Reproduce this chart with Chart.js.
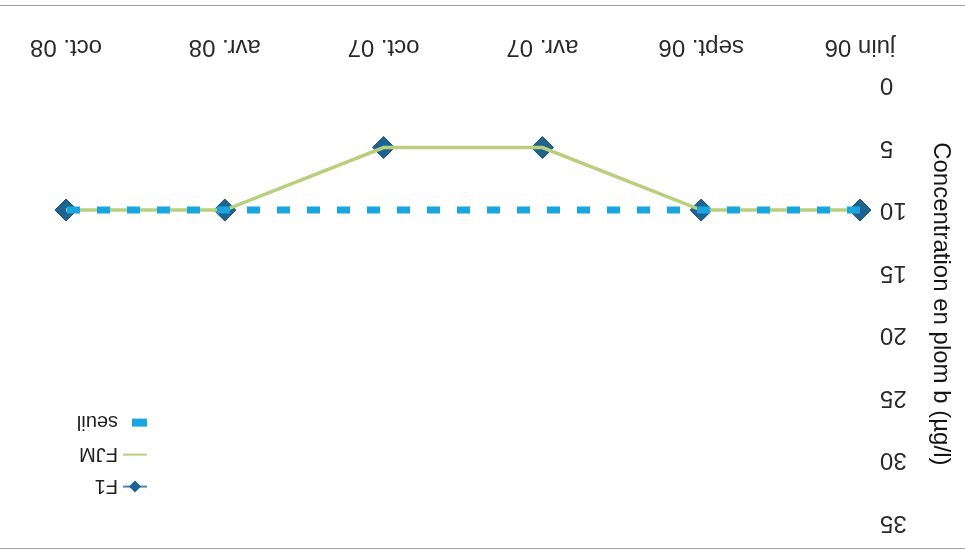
<!DOCTYPE html>
<html>
<head>
<meta charset="utf-8">
<script src="https://cdn.jsdelivr.net/npm/chart.js@4"></script>
<style>
   html, body { margin: 0; padding: 0; background: #fff; }
   /* the scanned page is upside down, so the whole chart is turned round */
   #wrap { position: relative; width: 965px; height: 557px; transform: rotate(180deg); }
   #frame { position: absolute; left: 0; right: 0; top: 8px; height: 542px;
            border-top: 1px solid #a3a3a3; border-bottom: 1px solid #a3a3a3; pointer-events: none; }
</style>
</head>
<body>
<div id="wrap">
   <canvas id="leadChart" width="965" height="557"></canvas>
   <div id="frame"></div>
</div>
<script>
const labels = ['juin 06', 'sept. 06', 'avr. 07', 'oct. 07', 'avr. 08', 'oct. 08'];
const f1Values = [10, 10, 5, 5, 10, 10];
const fjmValues = [10, 10, 5, 5, 10, 10];
const seuilValues = [10, 10, 10, 10, 10, 10];
const yTicks = [0, 5, 10, 15, 20, 25, 30, 35];
const yTitle = 'Concentration en plom b (µg/l)';

const fontFamily = '"Liberation Sans", Arial, sans-serif';

// legend sits inside the plot, near the top right corner
const sideLegend = {
   id: 'sideLegend',
   afterDatasetsDraw(chart) {
      const ctx = chart.ctx;
      const area = chart.chartArea;
      const x0 = area.right - 81;
      ctx.save();
      chart.data.datasets.forEach((ds, i) => {
         const y = area.top + 36 + i * 32;
         if (ds.borderDash && ds.borderDash.length) {
            ctx.fillStyle = ds.borderColor;
            ctx.fillRect(x0, y - 4, 15, 8);
         } else {
            ctx.strokeStyle = ds.borderColor;
            ctx.lineWidth = 2;
            ctx.beginPath();
            ctx.moveTo(x0, y);
            ctx.lineTo(x0 + 24, y);
            ctx.stroke();
         }
         if (ds.pointRadius > 0) {
            const cx = x0 + 12, r = 6;
            ctx.fillStyle = ds.pointBackgroundColor;
            ctx.beginPath();
            ctx.moveTo(cx, y - r);
            ctx.lineTo(cx + r, y);
            ctx.lineTo(cx, y + r);
            ctx.lineTo(cx - r, y);
            ctx.closePath();
            ctx.fill();
         }
         ctx.fillStyle = '#222';
         ctx.font = '20px ' + fontFamily;
         ctx.textAlign = 'left';
         ctx.textBaseline = 'middle';
         ctx.fillText(ds.label, x0 + 29, y + 1);
      });
      ctx.restore();
   }
};

const ctx = document.getElementById('leadChart').getContext('2d');
new Chart(ctx, {
   type: 'line',
   data: {
      labels: labels,
      datasets: [
         {
            label: 'F1',
            data: f1Values,
            borderColor: '#4a86b8',
            borderWidth: 2,
            pointStyle: 'rectRot',
            pointRadius: 11,
            pointBackgroundColor: '#1d6491',
            pointBorderColor: '#164d71',
            pointBorderWidth: 1,
            order: 3
         },
         {
            label: 'FJM',
            data: fjmValues,
            borderColor: '#b8cf7e',
            borderWidth: 3.5,
            pointRadius: 0,
            order: 2
         },
         {
            label: 'seuil',
            data: seuilValues,
            borderColor: '#18a5e0',
            borderWidth: 7,
            borderDash: [13, 17],
            borderCapStyle: 'butt',
            pointRadius: 0,
            order: 1
         }
      ]
   },
   options: {
      responsive: false,
      animation: false,
      layout: { padding: { top: 30, right: 66, left: 0, bottom: 0 } },
      plugins: {
         legend: { display: false },
         tooltip: { enabled: false }
      },
      scales: {
         x: {
            grid: { display: false, drawTicks: false },
            border: { display: false },
            ticks: {
               color: '#2a2a2a',
               padding: 24,
               maxRotation: 0,
               font: { family: fontFamily, size: 24 }
            },
            afterFit: (scale) => { scale.height = 85; }
         },
         y: {
            min: 0,
            max: 35,
            grid: { display: false, drawTicks: false },
            border: { display: false },
            afterBuildTicks: (scale) => { scale.ticks = yTicks.map(v => ({ value: v })); },
            ticks: {
               color: '#2a2a2a',
               padding: 20,
               font: { family: fontFamily, size: 24 }
            },
            title: {
               display: true,
               text: yTitle,
               color: '#151515',
               padding: { top: 10, bottom: 0 },
               font: { family: fontFamily, size: 24 }
            },
            afterFit: (scale) => { scale.width = 105; }
         }
      }
   },
   plugins: [sideLegend]
});
</script>
</body>
</html>
